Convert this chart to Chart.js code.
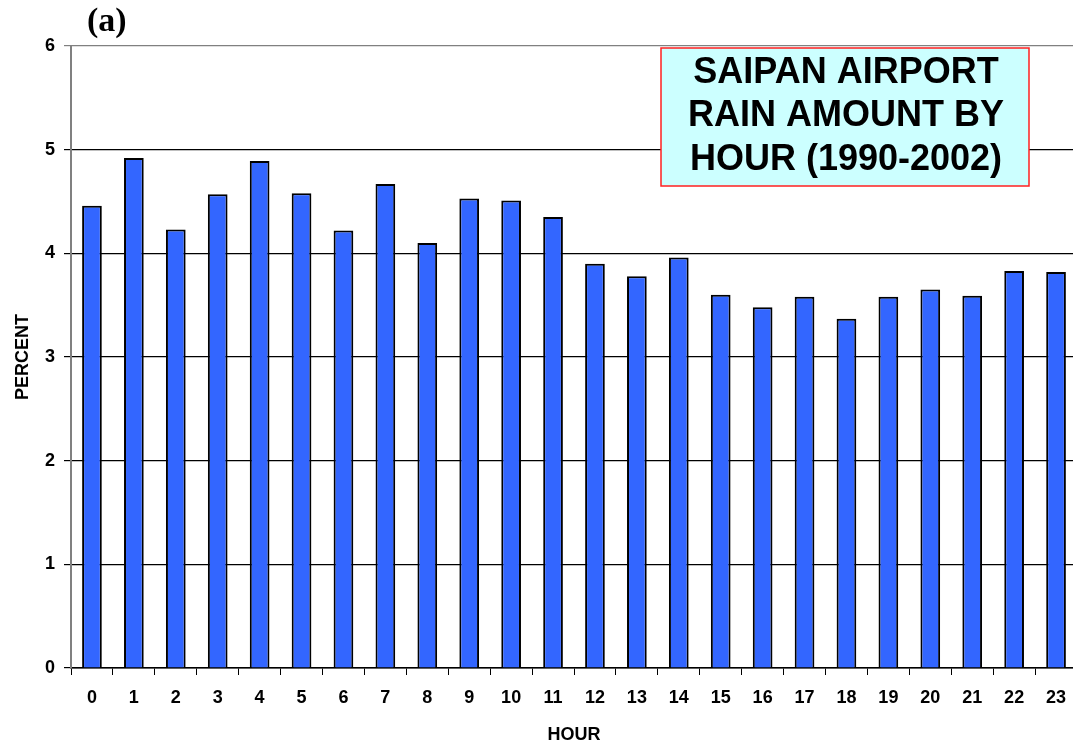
<!DOCTYPE html>
<html lang="en">
<head>
<meta charset="UTF-8">
<title>Saipan Airport Rain Amount by Hour</title>
<script src="https://cdn.jsdelivr.net/npm/chart.js"></script>
<style>
  html, body { margin: 0; padding: 0; background: #fff; overflow: hidden; }
  #wrap { width: 1073px; height: 746px; overflow: hidden; position: relative; }
  #rainChart { display: block; }
</style>
</head>
<body>
<div id="wrap"><canvas id="rainChart" width="1080" height="746"></canvas></div>
<script>
const hours = ['0','1','2','3','4','5','6','7','8','9','10','11','12','13','14','15','16','17','18','19','20','21','22','23'];
const percentValues = [4.46, 4.92, 4.23, 4.57, 4.89, 4.58, 4.22, 4.67, 4.10, 4.53, 4.51, 4.35,
                       3.90, 3.78, 3.96, 3.60, 3.48, 3.58, 3.37, 3.58, 3.65, 3.59, 3.83, 3.82];
const yTicks = [0, 1, 2, 3, 4, 5, 6];
const titleLines = ['SAIPAN AIRPORT', 'RAIN AMOUNT BY', 'HOUR (1990-2002)'];
const panelLabel = '(a)';

const sansFont = '"Liberation Sans", Arial, sans-serif';

// title box and panel letter, drawn on top of the chart
const overlayPlugin = {
  id: 'overlay',
  afterDraw(chart) {
    const c = chart.ctx;
    c.save();
    c.fillStyle = '#000';
    c.font = 'bold 34px "Liberation Serif", "Times New Roman", serif';
    c.textAlign = 'left';
    c.textBaseline = 'middle';
    c.fillText(panelLabel, 87, 22);

    const bx = 661, by = 48, bw = 368, bh = 138;
    c.fillStyle = '#CCFFFF';
    c.fillRect(bx, by, bw, bh);
    c.strokeStyle = '#FF2020';
    c.lineWidth = 1.5;
    c.strokeRect(bx, by, bw, bh);
    c.fillStyle = '#000';
    c.font = 'bold 36px ' + sansFont;
    c.textAlign = 'center';
    titleLines.forEach((t, i) => c.fillText(t, bx + bw / 2 + 1, 73 + i * 43.5));
    c.restore();
  }
};

const ctx = document.getElementById('rainChart').getContext('2d');
const rainChart = new Chart(ctx, {
  type: 'bar',
  data: {
    labels: hours,
    datasets: [{
      data: percentValues,
      backgroundColor: '#3366FF',
      borderColor: '#000',
      borderWidth: 2,
      barPercentage: 0.47,
      categoryPercentage: 1.0
    }]
  },
  options: {
    responsive: false,
    animation: false,
    layout: { padding: { left: 0, top: 46, right: 3, bottom: 0 } },
    plugins: { legend: { display: false }, tooltip: { enabled: false } },
    scales: {
      x: {
        offset: true,
        grid: { display: true, drawOnChartArea: false, drawTicks: true, tickLength: 7, color: '#000', lineWidth: 1, offset: true },
        border: { display: true, color: '#000', width: 1.5 },
        ticks: { color: '#000', font: { family: sansFont, size: 18, weight: 'bold' }, padding: 12, maxRotation: 0, autoSkip: false },
        title: { display: true, text: 'HOUR', color: '#000', font: { family: sansFont, size: 18, weight: 'bold' }, padding: { top: 8, bottom: 0 } },
        afterFit(scale) { scale.height = 78; }
      },
      y: {
        min: 0,
        max: 6,
        afterBuildTicks(scale) { scale.ticks = yTicks.map(v => ({ value: v })); },
        grid: {
          color: c => (c.tick && c.tick.value === 6 ? '#808080' : '#000'),
          lineWidth: 1.2,
          tickLength: 7
        },
        border: { display: true, color: '#808080', width: 2 },
        ticks: { color: '#000', font: { family: sansFont, size: 18, weight: 'bold' }, padding: 9 },
        title: { display: true, text: 'PERCENT', color: '#000', font: { family: sansFont, size: 18, weight: 'bold' }, padding: { top: 12, bottom: 0 } },
        afterFit(scale) { scale.width = 71; }
      }
    }
  },
  plugins: [overlayPlugin]
});
</script>
</body>
</html>
